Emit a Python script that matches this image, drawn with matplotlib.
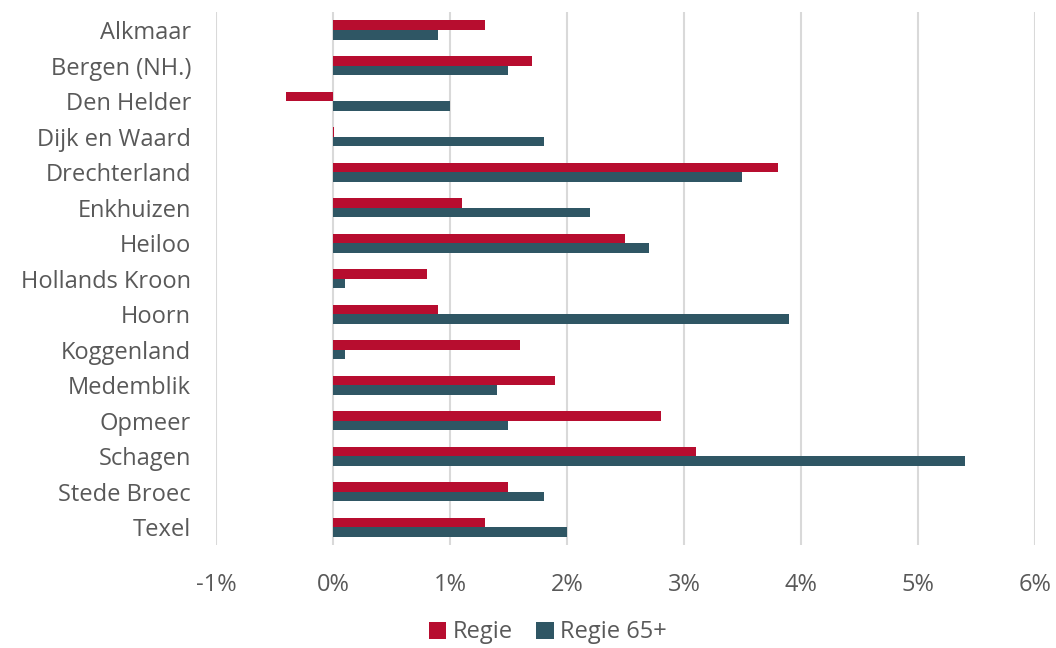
import numpy as np
import matplotlib
matplotlib.use("Agg")
import matplotlib.pyplot as plt
from matplotlib.ticker import FuncFormatter

gemeenten = ["Alkmaar", "Bergen (NH.)", "Den Helder", "Dijk en Waard", "Drechterland",
             "Enkhuizen", "Heiloo", "Hollands Kroon", "Hoorn", "Koggenland",
             "Medemblik", "Opmeer", "Schagen", "Stede Broec", "Texel"]
regie = [1.3, 1.7, -0.4, 0.01, 3.8, 1.1, 2.5, 0.8, 0.9, 1.6, 1.9, 2.8, 3.1, 1.5, 1.3]
regie65 = [0.9, 1.5, 1.0, 1.8, 3.5, 2.2, 2.7, 0.1, 3.9, 0.1, 1.4, 1.5, 5.4, 1.8, 2.0]
xticks = [-1, 0, 1, 2, 3, 4, 5, 6]

RED = "#B70D2F"
BLUE = "#2F5664"
GREY = "#595959"

plt.rcParams["font.family"] = ["Open Sans", "DejaVu Sans"]

fig = plt.figure(figsize=(10.56, 6.48), dpi=100)
ax = fig.add_axes([0.2045, 0.159, 0.7755, 0.822])

y = np.arange(len(gemeenten))
h = 0.27
ax.barh(y - h / 2, regie, height=h, color=RED, label="Regie", zorder=3)
ax.barh(y + h / 2, regie65, height=h, color=BLUE, label="Regie 65+", zorder=3)

ax.set_ylim(len(gemeenten) - 0.5, -0.5)
ax.set_xlim(-1, 6)
ax.set_xticks(xticks)
ax.xaxis.set_major_formatter(FuncFormatter(lambda v, _: f"{v:.0f}%"))
ax.set_yticks(y)
ax.set_yticklabels(gemeenten)
ax.tick_params(axis="y", length=0, pad=18, labelsize=17, labelcolor=GREY)
ax.tick_params(axis="x", length=0, pad=20, labelsize=17, labelcolor=GREY)
ax.grid(axis="x", color="#D9D9D9", lw=1.5, zorder=0)
for s in ax.spines.values():
    s.set_visible(False)

ax.legend(loc="upper center", bbox_to_anchor=(0.405, -0.124), ncol=2, frameon=False,
          fontsize=17, labelcolor=GREY, handlelength=0.75, handleheight=0.75,
          handletextpad=0.25, columnspacing=1.0, borderaxespad=0)

fig.savefig("out.png", dpi=100)
